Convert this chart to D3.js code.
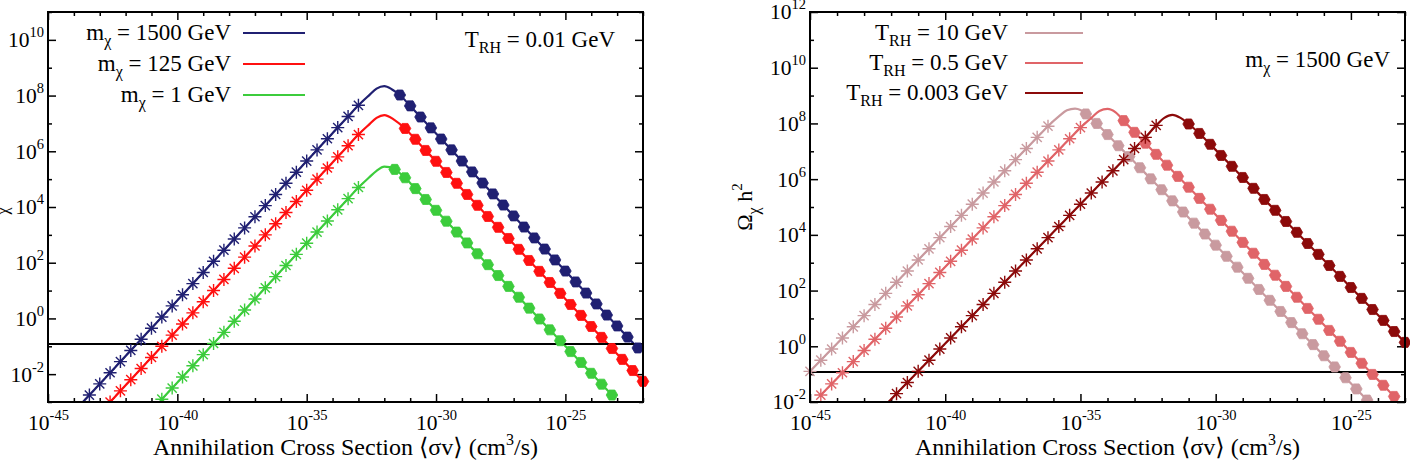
<!DOCTYPE html>
<html><head><meta charset="utf-8">
<script src="https://cdn.jsdelivr.net/npm/d3@7"></script>
<style>
body{margin:0;background:#fff}
</style>
</head><body>
<svg id="c" width="1410" height="468" font-family="'Liberation Serif', 'DejaVu Serif', serif"></svg>
<script>
// ---- Data: pairs of [log10 <sigma v> (cm^3/s), log10 Omega_chi h^2] ----
// Left panel, T_RH = 0.01 GeV
const blueRise = [[-43.8,-3.15],[-43.4,-2.75],[-43.0,-2.35],[-42.6,-1.95],[-42.2,-1.55],[-41.8,-1.15],[-41.4,-0.75],[-41.0,-0.35],[-40.6,0.05],[-40.2,0.45],[-39.8,0.85],[-39.4,1.25],[-39.0,1.65],[-38.6,2.05],[-38.2,2.45],[-37.8,2.85],[-37.4,3.25],[-37.0,3.65],[-36.6,4.05],[-36.2,4.45],[-35.8,4.85],[-35.4,5.25],[-35.0,5.65],[-34.6,6.05],[-34.2,6.45],[-33.8,6.85],[-33.4,7.25],[-33.0,7.65]];
const bluePeak = [[-32.6,8.0],[-32.3,8.25],[-32.0,8.34],[-31.7,8.22]];
const blueFall = [[-31.4,8.02],[-31.0,7.63],[-30.6,7.23],[-30.2,6.84],[-29.8,6.44],[-29.4,6.05],[-29.0,5.65],[-28.6,5.26],[-28.2,4.86],[-27.8,4.47],[-27.4,4.07],[-27.0,3.68],[-26.6,3.28],[-26.2,2.89],[-25.8,2.49],[-25.4,2.10],[-25.0,1.70],[-24.6,1.31],[-24.2,0.91],[-23.8,0.52],[-23.4,0.12],[-23.0,-0.27],[-22.6,-0.67],[-22.2,-1.06]];

const redRise = [[-42.6,-3.0],[-42.2,-2.6],[-41.8,-2.2],[-41.4,-1.8],[-41.0,-1.4],[-40.6,-1.0],[-40.2,-0.6],[-39.8,-0.2],[-39.4,0.2],[-39.0,0.6],[-38.6,1.0],[-38.2,1.4],[-37.8,1.8],[-37.4,2.2],[-37.0,2.6],[-36.6,3.0],[-36.2,3.4],[-35.8,3.8],[-35.4,4.2],[-35.0,4.6],[-34.6,5.0],[-34.2,5.4],[-33.8,5.8],[-33.4,6.2],[-33.0,6.6]];
const redPeak = [[-32.6,6.95],[-32.3,7.2],[-32.0,7.3],[-31.6,7.12]];
const redFall = [[-31.2,6.82],[-30.8,6.43],[-30.4,6.03],[-30.0,5.64],[-29.6,5.24],[-29.2,4.85],[-28.8,4.45],[-28.4,4.06],[-28.0,3.66],[-27.6,3.27],[-27.2,2.87],[-26.8,2.48],[-26.4,2.08],[-26.0,1.69],[-25.6,1.29],[-25.2,0.90],[-24.8,0.50],[-24.4,0.11],[-24.0,-0.29],[-23.6,-0.68],[-23.2,-1.08],[-22.8,-1.47],[-22.4,-1.87],[-22.0,-2.26]];

const greenRise = [[-40.6,-2.9],[-40.2,-2.5],[-39.8,-2.1],[-39.4,-1.7],[-39.0,-1.3],[-38.6,-0.9],[-38.2,-0.5],[-37.8,-0.1],[-37.4,0.3],[-37.0,0.7],[-36.6,1.1],[-36.2,1.5],[-35.8,1.9],[-35.4,2.3],[-35.0,2.7],[-34.6,3.1],[-34.2,3.5],[-33.8,3.9],[-33.4,4.3],[-33.0,4.7]];
const greenPeak = [[-32.6,5.05],[-32.3,5.3],[-32.0,5.45],[-31.8,5.43]];
const greenFall = [[-31.6,5.35],[-31.2,5.05],[-30.8,4.66],[-30.4,4.27],[-30.0,3.88],[-29.6,3.49],[-29.2,3.10],[-28.8,2.71],[-28.4,2.32],[-28.0,1.93],[-27.6,1.54],[-27.2,1.15],[-26.8,0.76],[-26.4,0.37],[-26.0,-0.02],[-25.6,-0.41],[-25.2,-0.80],[-24.8,-1.19],[-24.4,-1.58],[-24.0,-1.97],[-23.6,-2.36],[-23.2,-2.75]];

// Right panel, m_chi = 1500 GeV
const pinkRise = [[-45.0,-0.9],[-44.6,-0.5],[-44.2,-0.1],[-43.8,0.3],[-43.4,0.7],[-43.0,1.1],[-42.6,1.5],[-42.2,1.9],[-41.8,2.3],[-41.4,2.7],[-41.0,3.1],[-40.6,3.5],[-40.2,3.9],[-39.8,4.3],[-39.4,4.7],[-39.0,5.1],[-38.6,5.5],[-38.2,5.9],[-37.8,6.3],[-37.4,6.7],[-37.0,7.1],[-36.6,7.5],[-36.2,7.9]];
const pinkPeak = [[-35.8,8.25],[-35.5,8.47],[-35.2,8.53],[-35.0,8.48]];
const pinkFall = [[-34.8,8.34],[-34.4,8.0],[-34.0,7.6],[-33.6,7.2],[-33.2,6.81],[-32.8,6.41],[-32.4,6.01],[-32.0,5.62],[-31.6,5.22],[-31.2,4.82],[-30.8,4.42],[-30.4,4.03],[-30.0,3.63],[-29.6,3.23],[-29.2,2.84],[-28.8,2.44],[-28.4,2.04],[-28.0,1.65],[-27.6,1.25],[-27.2,0.85],[-26.8,0.45],[-26.4,0.06],[-26.0,-0.34],[-25.6,-0.74],[-25.2,-1.13],[-24.8,-1.53],[-24.4,-1.93]];

const midRise = [[-44.6,-1.75],[-44.2,-1.35],[-43.8,-0.95],[-43.4,-0.55],[-43.0,-0.15],[-42.6,0.25],[-42.2,0.65],[-41.8,1.05],[-41.4,1.45],[-41.0,1.85],[-40.6,2.25],[-40.2,2.65],[-39.8,3.05],[-39.4,3.45],[-39.0,3.85],[-38.6,4.25],[-38.2,4.65],[-37.8,5.05],[-37.4,5.45],[-37.0,5.85],[-36.6,6.25],[-36.2,6.65],[-35.8,7.05],[-35.4,7.45],[-35.0,7.85]];
const midPeak = [[-34.6,8.2],[-34.3,8.45],[-34.0,8.52],[-33.7,8.4]];
const midFall = [[-33.4,8.1],[-33.0,7.68],[-32.6,7.29],[-32.2,6.89],[-31.8,6.5],[-31.4,6.1],[-31.0,5.71],[-30.6,5.31],[-30.2,4.92],[-29.8,4.52],[-29.4,4.13],[-29.0,3.73],[-28.6,3.34],[-28.2,2.94],[-27.8,2.55],[-27.4,2.15],[-27.0,1.76],[-26.6,1.36],[-26.2,0.97],[-25.8,0.57],[-25.4,0.18],[-25.0,-0.22],[-24.6,-0.61],[-24.2,-1.01],[-23.8,-1.40],[-23.4,-1.80]];

const darkRise = [[-42.2,-2.1],[-41.8,-1.7],[-41.4,-1.3],[-41.0,-0.9],[-40.6,-0.5],[-40.2,-0.1],[-39.8,0.3],[-39.4,0.7],[-39.0,1.1],[-38.6,1.5],[-38.2,1.9],[-37.8,2.3],[-37.4,2.7],[-37.0,3.1],[-36.6,3.5],[-36.2,3.9],[-35.8,4.3],[-35.4,4.7],[-35.0,5.1],[-34.6,5.5],[-34.2,5.9],[-33.8,6.3],[-33.4,6.7],[-33.0,7.1],[-32.6,7.5],[-32.2,7.93]];
const darkPeak = [[-31.9,8.2],[-31.6,8.31],[-31.3,8.2]];
const darkFall = [[-31.0,7.98],[-30.6,7.64],[-30.2,7.25],[-29.8,6.85],[-29.4,6.46],[-29.0,6.06],[-28.6,5.67],[-28.2,5.27],[-27.8,4.88],[-27.4,4.48],[-27.0,4.09],[-26.6,3.69],[-26.2,3.30],[-25.8,2.90],[-25.4,2.51],[-25.0,2.11],[-24.6,1.72],[-24.2,1.32],[-23.8,0.93],[-23.4,0.53],[-23.0,0.14]];

const omegaObs = 0.12;
const leftLegend = ["1500", "125", "1"];     // m_chi in GeV
const rightLegend = ["10", "0.5", "0.003"];  // T_RH in GeV
const leftXTicks = [-45, -40, -35, -30, -25];
const leftYTicks = [-2, 0, 2, 4, 6, 8, 10];
const rightXTicks = [-45, -40, -35, -30, -25];
const rightYTicks = [-2, 0, 2, 4, 6, 8, 10, 12];

// ---- Drawing ----
const FONT = "'Liberation Serif', 'DejaVu Serif', serif";
const svg = d3.select("#c");
const defs = svg.append("defs");
const P = v => Math.pow(10, v);

function starPath(r) {
  const a = r * 0.7071;
  return `M${-r},0H${r}M0,${-r}V${r}M${-a},${-a}L${a},${a}M${-a},${a}L${a},${-a}`;
}
function hexPath(r) {
  const pts = d3.range(6).map(i => [r * Math.cos(i * Math.PI / 3), r * Math.sin(i * Math.PI / 3)]);
  return "M" + pts.map(p => p[0].toFixed(2) + "," + p[1].toFixed(2)).join("L") + "Z";
}

function supLabel(sel, e) {
  sel.text(null).attr("font-family", FONT).attr("fill", "#000");
  sel.append("tspan").text("10");
  sel.append("tspan").attr("dy", -10).attr("font-size", 14.5).text(String(e));
}

function panel(cfg) {
  const x = d3.scaleLog().domain([P(cfg.xDom[0]), P(cfg.xDom[1])]).range([cfg.left, cfg.right]);
  const y = d3.scaleLog().domain([P(cfg.yDom[0]), P(cfg.yDom[1])]).range([cfg.bottom, cfg.top]);
  const g = svg.append("g").attr("font-family", FONT);
  const w = cfg.right - cfg.left, h = cfg.bottom - cfg.top;

  defs.append("clipPath").attr("id", cfg.id + "L").append("rect")
    .attr("x", cfg.left).attr("y", cfg.top).attr("width", w).attr("height", h);
  defs.append("clipPath").attr("id", cfg.id + "M").append("rect")
    .attr("x", cfg.left - 10).attr("y", cfg.top).attr("width", w + 20).attr("height", h);

  const xMajor = cfg.xTicks.map(P);
  const xMinor = d3.range(cfg.xDom[0], cfg.xDom[1] + 1).filter(e => !cfg.xTicks.includes(e)).map(P);
  const yMajor = cfg.yTicks.map(P);
  const yMinor = d3.range(cfg.yDom[0], cfg.yDom[1] + 1).filter(e => !cfg.yTicks.includes(e)).map(P);

  function axisStyle(a) {
    a.select(".domain").remove();
    a.selectAll("line").attr("stroke", "#000").attr("stroke-width", 1.5);
    a.attr("font-family", FONT).attr("font-size", 21.5);
  }
  // bottom
  const gb = g.append("g").attr("transform", `translate(0,${cfg.bottom})`)
    .call(d3.axisBottom(x).tickValues(xMajor).tickSize(-8).tickPadding(13)).call(axisStyle);
  gb.selectAll(".tick text").each(function(d) { supLabel(d3.select(this), Math.round(Math.log10(d))); });
  g.append("g").attr("transform", `translate(0,${cfg.bottom})`)
    .call(d3.axisBottom(x).tickValues(xMinor).tickSize(-4).tickFormat("")).call(axisStyle);
  // top
  g.append("g").attr("transform", `translate(0,${cfg.top})`)
    .call(d3.axisTop(x).tickValues(xMajor).tickSize(-8).tickFormat("")).call(axisStyle);
  g.append("g").attr("transform", `translate(0,${cfg.top})`)
    .call(d3.axisTop(x).tickValues(xMinor).tickSize(-4).tickFormat("")).call(axisStyle);
  // left
  const gl = g.append("g").attr("transform", `translate(${cfg.left},0)`)
    .call(d3.axisLeft(y).tickValues(yMajor).tickSize(-8).tickPadding(4)).call(axisStyle);
  gl.selectAll(".tick text").each(function(d) { supLabel(d3.select(this), Math.round(Math.log10(d))); });
  g.append("g").attr("transform", `translate(${cfg.left},0)`)
    .call(d3.axisLeft(y).tickValues(yMinor).tickSize(-4).tickFormat("")).call(axisStyle);
  // right
  g.append("g").attr("transform", `translate(${cfg.right},0)`)
    .call(d3.axisRight(y).tickValues(yMajor).tickSize(-8).tickFormat("")).call(axisStyle);
  g.append("g").attr("transform", `translate(${cfg.right},0)`)
    .call(d3.axisRight(y).tickValues(yMinor).tickSize(-4).tickFormat("")).call(axisStyle);

  const line = d3.line().x(d => x(P(d[0]))).y(d => y(P(d[1]))).curve(d3.curveMonotoneX);
  const lines = g.append("g").attr("clip-path", `url(#${cfg.id}L)`);
  const marks = g.append("g").attr("clip-path", `url(#${cfg.id}M)`);
  const inY = d => d[1] >= cfg.yDom[0] - 1e-9 && d[1] <= cfg.yDom[1];

  cfg.series.forEach(s => {
    lines.append("path").attr("d", line(s.rise.concat(s.peak, s.fall)))
      .attr("fill", "none").attr("stroke", s.color).attr("stroke-width", 2.2);
  });
  cfg.series.forEach(s => {
    marks.selectAll(null).data(s.rise.filter(inY)).join("path")
      .attr("transform", d => `translate(${x(P(d[0]))},${y(P(d[1]))})`)
      .attr("d", starPath(6.5)).attr("fill", "none").attr("stroke", s.color).attr("stroke-width", 1.4);
    marks.selectAll(null).data(s.fall.filter(inY)).join("path")
      .attr("transform", d => `translate(${x(P(d[0]))},${y(P(d[1]))})`)
      .attr("d", hexPath(5.8)).attr("fill", s.color).attr("stroke", s.color).attr("stroke-width", 0.8);
  });

  // relic density line
  lines.append("line").attr("x1", cfg.left).attr("x2", cfg.right)
    .attr("y1", y(omegaObs)).attr("y2", y(omegaObs)).attr("stroke", "#000").attr("stroke-width", 2);

  // frame
  g.append("rect").attr("x", cfg.left).attr("y", cfg.top).attr("width", w).attr("height", h)
    .attr("fill", "none").attr("stroke", "#000").attr("stroke-width", 2);

  // x title
  const xt = g.append("text").attr("x", (cfg.left + cfg.right) / 2).attr("y", 455)
    .attr("text-anchor", "middle").attr("font-size", 24);
  xt.append("tspan").text("Annihilation Cross Section \u27E8\u03C3v\u27E9 (cm");
  xt.append("tspan").attr("dy", -10).attr("font-size", 16).text("3");
  xt.append("tspan").attr("dy", 10).text("/s)");

  // y title (the left panel's title is cut by the picture edge, as in the reference)
  const yt = g.append("text").attr("transform", `translate(${cfg.yTitleX},207) rotate(-90)`)
    .attr("text-anchor", "middle").attr("font-size", 22);
  yt.append("tspan").text("\u03A9");
  yt.append("tspan").attr("dy", cfg.ySubDy).attr("font-size", 16).text("\u03C7");
  yt.append("tspan").attr("dy", -cfg.ySubDy).text(" h");
  yt.append("tspan").attr("dy", -10).attr("font-size", 15).text("2");

  // legend
  cfg.series.forEach((s, i) => {
    const ly = cfg.legY[i];
    g.append("line").attr("x1", cfg.legLine[0]).attr("x2", cfg.legLine[1])
      .attr("y1", ly).attr("y2", ly).attr("stroke", s.color).attr("stroke-width", 2.2);
    const t = g.append("text").attr("x", cfg.legTextX).attr("y", ly + 7)
      .attr("text-anchor", "end").attr("font-size", 23);
    t.append("tspan").text(cfg.legMain);
    t.append("tspan").attr("dy", 6).attr("font-size", 16).text(cfg.legSub);
    t.append("tspan").attr("dy", -6).text(" = " + s.label + " GeV");
  });

  // annotation
  const an = g.append("text").attr("x", cfg.ann.x).attr("y", cfg.ann.y)
    .attr("text-anchor", "end").attr("font-size", 23);
  an.append("tspan").text(cfg.ann.main);
  an.append("tspan").attr("dy", 6).attr("font-size", 16).text(cfg.ann.sub);
  an.append("tspan").attr("dy", -6).text(" = " + cfg.ann.value + " GeV");
}

panel({
  id: "pl", left: 48, right: 643, top: 12, bottom: 402,
  xDom: [-45, -22], yDom: [-3, 11], xTicks: leftXTicks, yTicks: leftYTicks,
  yTitleX: -3, ySubDy: 11,
  series: [
    {rise: blueRise, peak: bluePeak, fall: blueFall, color: "#202072", label: leftLegend[0]},
    {rise: redRise, peak: redPeak, fall: redFall, color: "#ff1010", label: leftLegend[1]},
    {rise: greenRise, peak: greenPeak, fall: greenFall, color: "#3ccc3c", label: leftLegend[2]}
  ],
  legY: [33, 64, 95], legLine: [243, 305], legTextX: 231, legMain: "m", legSub: "\u03C7",
  ann: {x: 615, y: 47, main: "T", sub: "RH", value: "0.01"}
});

panel({
  id: "pr", left: 810, right: 1405, top: 12, bottom: 402,
  xDom: [-45, -23], yDom: [-2, 12], xTicks: rightXTicks, yTicks: rightYTicks,
  yTitleX: 752, ySubDy: 7,
  series: [
    {rise: pinkRise, peak: pinkPeak, fall: pinkFall, color: "#c99a9f", label: rightLegend[0]},
    {rise: midRise, peak: midPeak, fall: midFall, color: "#e06468", label: rightLegend[1]},
    {rise: darkRise, peak: darkPeak, fall: darkFall, color: "#8c0a0a", label: rightLegend[2]}
  ],
  legY: [33, 63, 93], legLine: [1025, 1083], legTextX: 1008, legMain: "T", legSub: "RH",
  ann: {x: 1390, y: 67, main: "m", sub: "\u03C7", value: "1500"}
});
</script>
</body></html>
